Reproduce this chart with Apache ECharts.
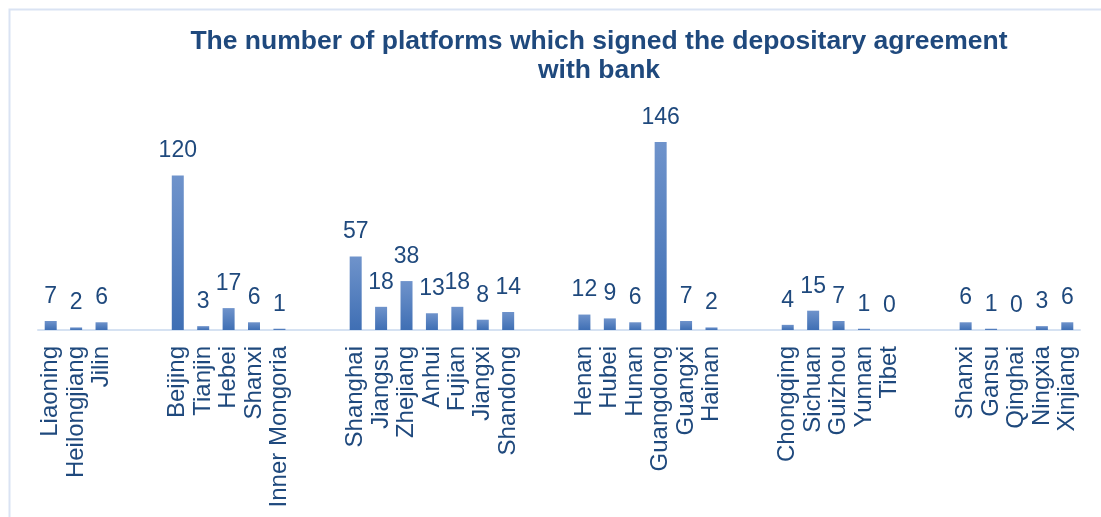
<!DOCTYPE html>
<html>
<head>
<meta charset="utf-8">
<script src="https://cdn.jsdelivr.net/npm/echarts@6/dist/echarts.min.js"></script>
<style>
html,body{margin:0;padding:0;background:#fff;}
#main{width:1101px;height:517px;}
</style>
</head>
<body>
<div id="main"></div>
<script>
// Categories (empty strings are the gaps between regional groups)
const categories = [
  'Liaoning','Heilongjiang','Jilin','','',
  'Beijing','Tianjin','Hebei','Shanxi','Inner Mongoria','','',
  'Shanghai','Jiangsu','Zhejiang','Anhui','Fujian','Jiangxi','Shandong','','',
  'Henan','Hubei','Hunan','Guangdong','Guangxi','Hainan','','',
  'Chongqing','Sichuan','Guizhou','Yunnan','Tibet','','',
  'Shanxi','Gansu','Qinghai','Ningxia','Xinjiang'
];
const values = [
  7,2,6,null,null,
  120,3,17,6,1,null,null,
  57,18,38,13,18,8,14,null,null,
  12,9,6,146,7,2,null,null,
  4,15,7,1,0,null,null,
  6,1,0,3,6
];
const titleText = 'The number of platforms which signed the depositary agreement\nwith bank';

const chart = echarts.init(document.getElementById('main'));
chart.setOption({
  backgroundColor: '#ffffff',
  animation: false,
  graphic: [{
    type: 'rect',
    shape: { x: 9.5, y: 9.5, width: 1200, height: 600 },
    style: { fill: 'none', stroke: '#dae3f3', lineWidth: 2 },
    silent: true
  }],
  title: {
    text: titleText,
    left: 594,
    textAlign: 'center',
    top: 22,
    textStyle: {
      fontFamily: 'Liberation Sans, Arial, sans-serif',
      fontSize: 26.5,
      fontWeight: 'bold',
      color: '#1f497d',
      lineHeight: 29
    }
  },
  grid: { left: 38, right: 21, top: 124, bottom: 187, containLabel: false },
  xAxis: {
    type: 'category',
    data: categories,
    axisLine: { show: true, lineStyle: { color: '#d6e2f2', width: 2 } },
    axisTick: { show: false },
    axisLabel: {
      interval: 0,
      rotate: 90,
      margin: 16,
      fontFamily: 'Liberation Sans, Arial, sans-serif',
      fontSize: 24,
      color: '#1f497d'
    }
  },
  yAxis: {
    type: 'value',
    min: 0,
    max: 160,
    show: false,
    splitLine: { show: false }
  },
  series: [{
    type: 'bar',
    data: values,
    barWidth: 12,
    itemStyle: {
      color: new echarts.graphic.LinearGradient(0, 0, 0, 1, [
        { offset: 0, color: '#6f93cb' },
        { offset: 1, color: '#3f6fb4' }
      ])
    },
    label: {
      show: true,
      position: 'top',
      distance: 13,
      fontFamily: 'Liberation Sans, Arial, sans-serif',
      fontSize: 23,
      color: '#1f497d'
    }
  }]
});
</script>
</body>
</html>
